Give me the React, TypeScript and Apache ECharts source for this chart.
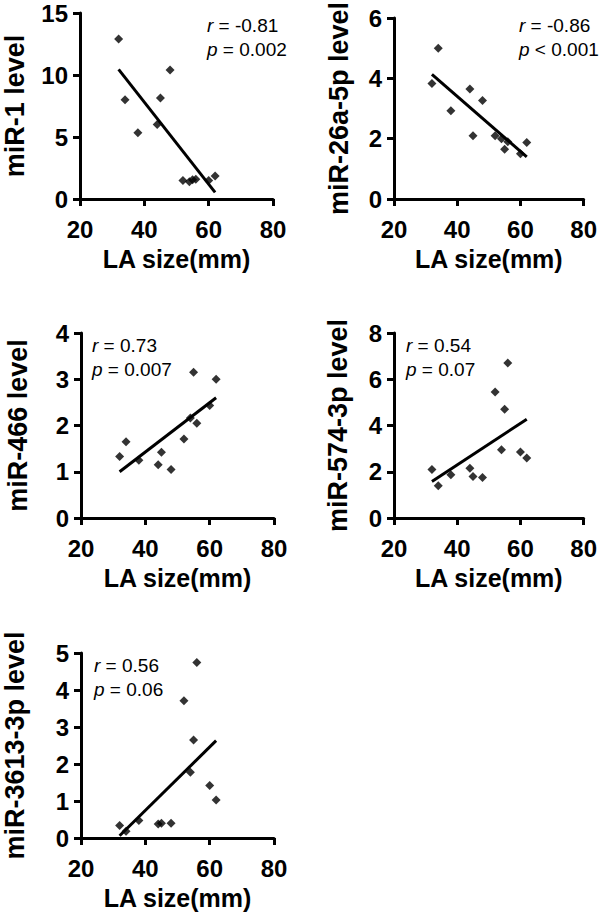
import { useEffect, useRef } from "react";
import * as echarts from "echarts";

// LA size (mm) of the 12 patients, shared by all panels
const laSize = [32, 34, 38, 44, 45, 48, 52, 54, 55, 56, 60, 62];

// microRNA levels per patient
const mir1 = [12.9, 8.0, 5.35, 6.0, 8.15, 10.4, 1.5, 1.4, 1.55, 1.6, 1.5, 1.85];
const mir26a5p = [3.83, 5.0, 2.93, 3.65, 2.1, 3.27, 2.1, 2.0, 1.65, 1.9, 1.5, 1.87];
const mir466 = [1.33, 1.65, 1.25, 1.15, 1.42, 1.05, 1.71, 2.16, 3.15, 2.05, 2.43, 3.0];
const mir5743p = [2.1, 1.4, 1.87, 2.15, 1.8, 1.75, 5.45, 2.95, 4.7, 6.7, 2.85, 2.6];
const mir36133p = [0.34, 0.18, 0.47, 0.38, 0.4, 0.4, 3.71, 1.78, 2.65, 4.74, 1.42, 1.03];

// regression line end points (x start/end, y start/end per panel)
const fitX = [32, 62];
const mir1Fit = [10.45, 0.54];
const mir26a5pFit = [4.13, 1.4];
const mir466Fit = [1.0, 2.6];
const mir5743pFit = [1.58, 4.27];
const mir36133pFit = [0.06, 2.63];

// axis ranges
const xMin = 20;
const xMax = 80;
const xInterval = 20;
const yMaxes = [15, 6, 4, 8, 5];
const yIntervals = [5, 2, 1, 2, 1];

// labels
const xTitle = "LA size(mm)";
const yTitles = ["miR-1 level", "miR-26a-5p level", "miR-466 level", "miR-574-3p level", "miR-3613-3p level"];
const rValues = ["-0.81", "-0.86", "0.73", "0.54", "0.56"];
const pTexts = ["= 0.002", "< 0.001", "= 0.007", "= 0.07", "= 0.06"];

const seriesY = [mir1, mir26a5p, mir466, mir5743p, mir36133p];
const fits = [mir1Fit, mir26a5pFit, mir466Fit, mir5743pFit, mir36133pFit];

// layout (pixels)
const layout = [
  { left: 80, top: 13, w: 193, h: 186, yGap: 52, annX: 207 },
  { left: 394, top: 13, w: 193, h: 186, yGap: 42, annX: 519 },
  { left: 81, top: 333, w: 193, h: 185, yGap: 50, annX: 92 },
  { left: 394, top: 333, w: 193, h: 185, yGap: 43, annX: 406 },
  { left: 81, top: 653, w: 193, h: 185, yGap: 53, annX: 94 },
];

const FONT = "'Liberation Sans', Arial, Helvetica, sans-serif";

export default function App() {
  const ref = useRef<HTMLDivElement>(null);

  useEffect(() => {
    if (!ref.current) return;
    const chart = echarts.init(ref.current, undefined, { renderer: "svg" });

    const grid: any[] = [];
    const xAxis: any[] = [];
    const yAxis: any[] = [];
    const series: any[] = [];
    const title: any[] = [];

    layout.forEach((L, i) => {
      grid.push({ left: L.left, top: L.top, width: L.w, height: L.h, containLabel: false });
      const axisCommon = {
        gridIndex: i,
        axisLine: { show: true, lineStyle: { color: "#000", width: 3 } },
        axisTick: { show: true, length: 7, lineStyle: { color: "#000", width: 3 } },
        splitLine: { show: false },
        nameTextStyle: { color: "#000", fontWeight: "bold", fontFamily: FONT },
      };
      xAxis.push({
        ...axisCommon,
        type: "value",
        min: xMin,
        max: xMax,
        interval: xInterval,
        name: xTitle,
        nameLocation: "middle",
        nameGap: 47,
        nameTextStyle: { ...axisCommon.nameTextStyle, fontSize: 25 },
        axisLabel: { color: "#000", fontWeight: "bold", fontSize: 24, fontFamily: FONT, margin: 18 },
      });
      yAxis.push({
        ...axisCommon,
        type: "value",
        min: 0,
        max: yMaxes[i],
        interval: yIntervals[i],
        name: yTitles[i],
        nameLocation: "middle",
        nameGap: L.yGap,
        nameTextStyle: { ...axisCommon.nameTextStyle, fontSize: 27 },
        axisLabel: { color: "#000", fontWeight: "bold", fontSize: 24, fontFamily: FONT, margin: 12 },
      });
      series.push({
        type: "scatter",
        xAxisIndex: i,
        yAxisIndex: i,
        symbol: "diamond",
        symbolSize: 9,
        itemStyle: { color: "#000" },
        data: laSize.map((x, k) => [x, seriesY[i][k]]),
      });
      series.push({
        type: "line",
        xAxisIndex: i,
        yAxisIndex: i,
        showSymbol: false,
        symbol: "none",
        lineStyle: { color: "#000", width: 3 },
        data: fitX.map((x, k) => [x, fits[i][k]]),
      });
      title.push({
        left: L.annX,
        top: L.top + 1,
        padding: 0,
        text: `{i|r} = ${rValues[i]}\n{i|p} ${pTexts[i]}`,
        textStyle: {
          color: "#000",
          fontSize: 19,
          fontWeight: "normal",
          fontFamily: FONT,
          lineHeight: 23.5,
          rich: {
            i: { fontStyle: "italic", fontSize: 19, fontFamily: FONT, color: "#000", lineHeight: 23.5 },
          },
        },
      });
    });

    chart.setOption({
      animation: false,
      backgroundColor: "#fff",
      title,
      grid,
      xAxis,
      yAxis,
      series,
    });

    return () => chart.dispose();
  }, []);

  return (
    <div
      ref={ref}
      style={{ position: "absolute", left: 0, top: 0, width: 600, height: 913, background: "#fff" }}
    />
  );
}
